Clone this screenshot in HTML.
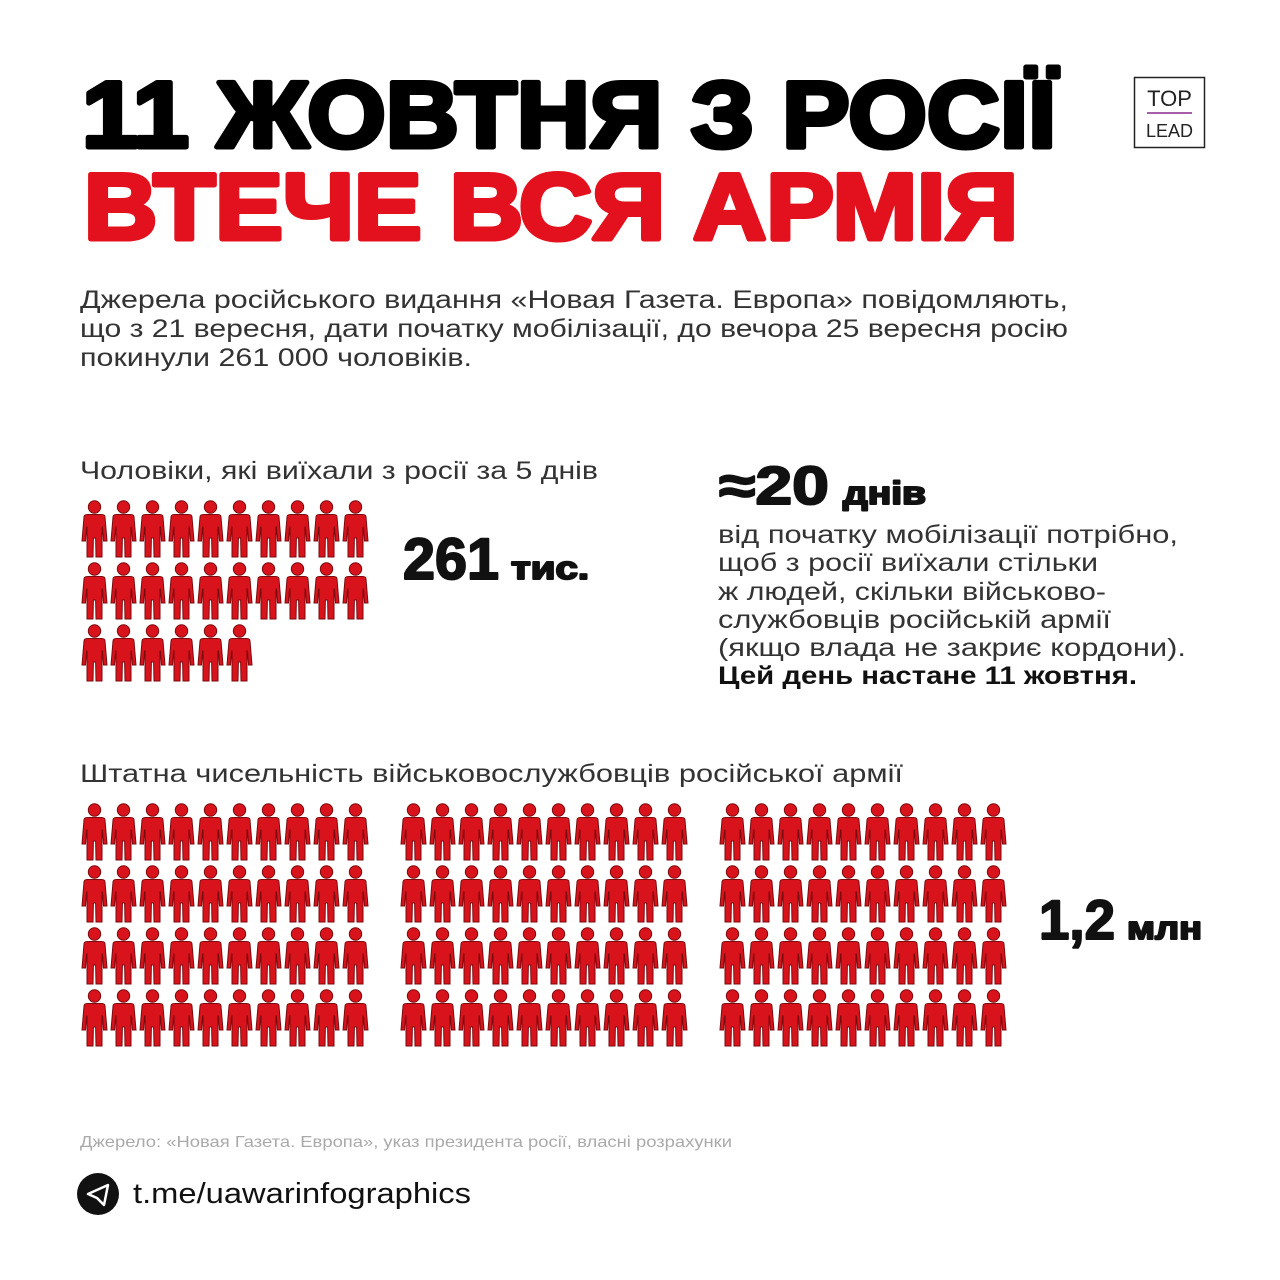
<!DOCTYPE html>
<html><head><meta charset="utf-8"><style>
html,body{margin:0;padding:0;background:#fff;}
svg{display:block;}
</style></head><body>
<svg width="1280" height="1280" viewBox="0 0 1280 1280" xmlns="http://www.w3.org/2000/svg" font-family="'Liberation Sans', sans-serif">
<defs>
<g id="man">
<circle cx="14.5" cy="7" r="6.2" fill="#d9131c" stroke="#7a0a0e" stroke-width="1"/>
<path d="M4,17 Q4,14.5 7.5,14.5 L21.5,14.5 Q25,14.5 25,17 L27,41 L23.5,41 L22.5,27 L22,27 L22,57 L16,57 L15.6,38 L13.4,38 L13,57 L7,57 L7,27 L6.5,27 L5.5,41 L2,41 Z" fill="#d9131c" stroke="#7a0a0e" stroke-width="1"/>
</g>
<pattern id="p1" patternUnits="userSpaceOnUse" x="80" y="500" width="29" height="62"><use href="#man"/></pattern>
<pattern id="p2" patternUnits="userSpaceOnUse" x="80" y="803" width="29" height="62"><use href="#man"/></pattern>
</defs>
<rect width="1280" height="1280" fill="#fff"/>
<text x="82" y="147" font-size="94" font-weight="bold" fill="#000" stroke="#000" stroke-width="5" stroke-linejoin="round" textLength="974" lengthAdjust="spacingAndGlyphs">11 ЖОВТНЯ З РОСІЇ</text>
<text x="84" y="239" font-size="94" font-weight="bold" fill="#e3101e" stroke="#e3101e" stroke-width="5" stroke-linejoin="round" textLength="934" lengthAdjust="spacingAndGlyphs">ВТЕЧЕ ВСЯ АРМІЯ</text>
<rect x="1134.5" y="77.5" width="70" height="70" fill="none" stroke="#222" stroke-width="1.5"/>
<text x="1169.5" y="106" font-size="22" fill="#222" text-anchor="middle">TOP</text>
<line x1="1147" y1="113" x2="1192" y2="113" stroke="#8a2a8a" stroke-width="1.5"/>
<text x="1169.5" y="137" font-size="18" fill="#222" text-anchor="middle">LEAD</text>
<g font-size="25" fill="#333">
<text x="80" y="308" textLength="988" lengthAdjust="spacingAndGlyphs">Джерела російського видання «Новая Газета. Европа» повідомляють,</text>
<text x="80" y="337" textLength="988" lengthAdjust="spacingAndGlyphs">що з 21 вересня, дати початку мобілізації, до вечора 25 вересня росію</text>
<text x="80" y="366" textLength="392" lengthAdjust="spacingAndGlyphs">покинули 261 000 чоловіків.</text>
<text x="80" y="479" textLength="518" lengthAdjust="spacingAndGlyphs">Чоловіки, які виїхали з росії за 5 днів</text>
<text x="80" y="782" textLength="823" lengthAdjust="spacingAndGlyphs">Штатна чисельність військовослужбовців російської армії</text>
<text x="718" y="543" textLength="460" lengthAdjust="spacingAndGlyphs">від початку мобілізації потрібно,</text>
<text x="718" y="571" textLength="380" lengthAdjust="spacingAndGlyphs">щоб з росії виїхали стільки</text>
<text x="718" y="600" textLength="388" lengthAdjust="spacingAndGlyphs">ж людей, скільки військово-</text>
<text x="718" y="628" textLength="393" lengthAdjust="spacingAndGlyphs">службовців російській армії</text>
<text x="718" y="656" textLength="468" lengthAdjust="spacingAndGlyphs">(якщо влада не закриє кордони).</text>
<text x="718" y="684" font-weight="bold" fill="#111" textLength="419" lengthAdjust="spacingAndGlyphs">Цей день настане 11 жовтня.</text>
</g>
<g font-weight="bold" fill="#111" stroke="#111" stroke-width="2" stroke-linejoin="round">
<text x="403" y="579" font-size="58" textLength="96" lengthAdjust="spacingAndGlyphs">261</text>
<text x="511" y="579" font-size="32" textLength="78" lengthAdjust="spacingAndGlyphs">тис.</text>
<text x="719" y="504" font-size="54" textLength="110" lengthAdjust="spacingAndGlyphs">≈20</text>
<text x="843" y="504" font-size="32" textLength="83" lengthAdjust="spacingAndGlyphs">днів</text>
<text x="1039" y="939" font-size="56" textLength="76" lengthAdjust="spacingAndGlyphs">1,2</text>
<text x="1127" y="939" font-size="32" textLength="75" lengthAdjust="spacingAndGlyphs">млн</text>
</g>
<rect x="80" y="500" width="290" height="124" fill="url(#p1)"/>
<rect x="80" y="624" width="174" height="62" fill="url(#p1)"/>
<rect x="80" y="803" width="290" height="248" fill="url(#p2)"/>
<rect x="399" y="803" width="290" height="248" fill="url(#p2)"/>
<rect x="718" y="803" width="290" height="248" fill="url(#p2)"/>
<text x="80" y="1147" font-size="16" fill="#aaa" textLength="652" lengthAdjust="spacingAndGlyphs">Джерело: «Новая Газета. Европа», указ президента росії, власні розрахунки</text>
<circle cx="98" cy="1194" r="21" fill="#111"/>
<path d="M88,1194 L108,1185 L104,1205 L97,1198 Z" fill="none" stroke="#fff" stroke-width="2.5" stroke-linejoin="round"/>
<text x="133" y="1203" font-size="29" fill="#111" textLength="338" lengthAdjust="spacingAndGlyphs">t.me/uawarinfographics</text>
</svg>
</body></html>
